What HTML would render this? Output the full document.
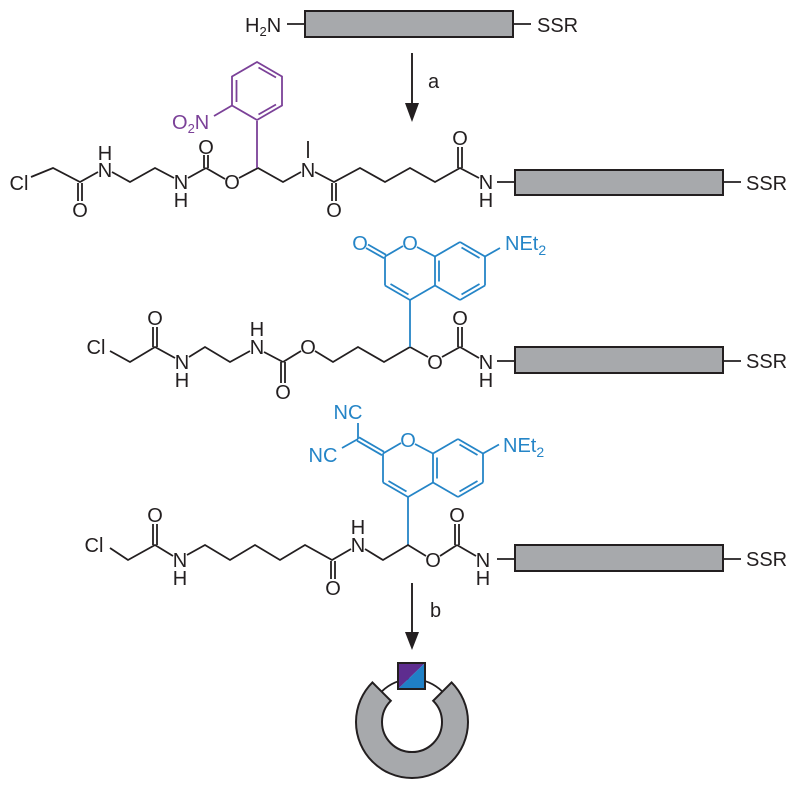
<!DOCTYPE html>
<html><head><meta charset="utf-8">
<style>
html,body{margin:0;padding:0;background:#fff;}
svg{display:block;}
text{font-family:"Liberation Sans",Arial,sans-serif;font-size:20px;fill:#231f20;}
text.p{fill:#7b4198;}
text.b{fill:#2585c7;}
</style></head>
<body>
<svg width="800" height="790" viewBox="0 0 800 790" xmlns="http://www.w3.org/2000/svg">
<!-- Row 1 -->
<text x="245" y="32">H<tspan font-size="13" dy="4">2</tspan><tspan dy="-4">N</tspan></text>
<g stroke="#231f20" stroke-width="1.8" fill="none">
<line x1="287" y1="24" x2="305" y2="24"/>
<line x1="513" y1="24" x2="531" y2="24"/>
</g>
<rect x="305" y="11" width="208" height="26" fill="#a7a9ac" stroke="#231f20" stroke-width="2"/>
<text x="537" y="32">SSR</text>

<!-- Arrow a -->
<line x1="412" y1="53" x2="412" y2="106" stroke="#231f20" stroke-width="1.9"/>
<polygon points="405,103 419,103 412,122" fill="#231f20"/>
<text x="428" y="88">a</text>

<!-- Row 2 -->
<g stroke="#231f20" stroke-width="1.8" fill="none">
<polyline points="31,177 53,168 80,182 98,172"/>
<line x1="78" y1="183" x2="78" y2="201"/><line x1="82" y1="183" x2="82" y2="201"/>
<polyline points="112,172 130,182 155,168 174,178"/>
<line x1="188" y1="178" x2="206" y2="168"/>
<line x1="204" y1="168" x2="204" y2="155"/><line x1="208" y1="168" x2="208" y2="155"/>
<line x1="206" y1="168" x2="225" y2="179"/>
<polyline points="239,178 258,168 283,182 301,172"/>
<line x1="308" y1="141" x2="308" y2="158"/>
<polyline points="315,172 334,182 360,168 385,182 410,168 435,182 460,168 479,178"/>
<line x1="332" y1="183" x2="332" y2="201"/><line x1="336" y1="183" x2="336" y2="201"/>
<line x1="458" y1="168" x2="458" y2="147"/><line x1="462" y1="168" x2="462" y2="147"/>
<line x1="497" y1="182" x2="515" y2="182"/>
<line x1="723" y1="182" x2="741" y2="182"/>
</g>
<g stroke="#7b4198" stroke-width="1.8" fill="none">
<line x1="257" y1="168" x2="257" y2="121"/>
<polygon points="257,62 282,76.5 282,105.5 257,120 232,105.5 232,76.5"/>
<line x1="236.5" y1="80" x2="236.5" y2="102"/>
<line x1="258.5" y1="67.5" x2="276" y2="77.5"/>
<line x1="276" y1="104.5" x2="258.5" y2="114.5"/>
<line x1="214" y1="116" x2="232" y2="105.5"/>
</g>
<text class="p" x="172" y="129">O<tspan font-size="13" dy="4">2</tspan><tspan dy="-4">N</tspan></text>
<rect x="515" y="170" width="208" height="25" fill="#a7a9ac" stroke="#231f20" stroke-width="2"/>
<text x="19" y="190" text-anchor="middle">Cl</text>
<text x="80" y="217" text-anchor="middle">O</text>
<text x="105" y="177" text-anchor="middle">N</text>
<text x="105" y="160" text-anchor="middle">H</text>
<text x="181" y="189" text-anchor="middle">N</text>
<text x="181" y="207" text-anchor="middle">H</text>
<text x="206" y="154" text-anchor="middle">O</text>
<text x="232" y="189" text-anchor="middle">O</text>
<text x="308" y="177" text-anchor="middle">N</text>
<text x="334" y="217" text-anchor="middle">O</text>
<text x="460" y="145" text-anchor="middle">O</text>
<text x="486" y="189" text-anchor="middle">N</text>
<text x="486" y="207" text-anchor="middle">H</text>
<text x="746" y="190">SSR</text>

<!-- Row 3 -->
<g stroke="#231f20" stroke-width="1.8" fill="none">
<polyline points="110,351 130,362 155,347 175,358"/>
<line x1="153" y1="347" x2="153" y2="327"/><line x1="157" y1="347" x2="157" y2="327"/>
<polyline points="189,357 205,347 230,362 250,351"/>
<line x1="264" y1="352" x2="283" y2="362"/>
<line x1="281" y1="362" x2="281" y2="383"/><line x1="285" y1="362" x2="285" y2="383"/>
<line x1="283" y1="362" x2="301" y2="351"/>
<polyline points="315,351 333,362 358,347 384,362 410,347 428,357"/>
<line x1="442" y1="357" x2="460" y2="347"/>
<line x1="458" y1="347" x2="458" y2="327"/><line x1="462" y1="347" x2="462" y2="327"/>
<line x1="460" y1="347" x2="479" y2="358"/>
<line x1="497" y1="361" x2="515" y2="361"/>
<line x1="723" y1="361" x2="741" y2="361"/>
</g>
<g stroke="#2585c7" stroke-width="1.8" fill="none">
<line x1="410" y1="347" x2="410" y2="300"/>
<line x1="410" y1="300" x2="385" y2="285.5"/>
<line x1="408.5" y1="294.5" x2="390.5" y2="284"/>
<line x1="385" y1="285.5" x2="385" y2="256.5"/>
<line x1="385" y1="256.5" x2="403" y2="246"/>
<line x1="417" y1="247" x2="435" y2="256.5"/>
<line x1="435" y1="256.5" x2="435" y2="285.5"/>
<line x1="439" y1="260.5" x2="439" y2="281.5"/>
<line x1="435" y1="285.5" x2="410" y2="300"/>
<line x1="435" y1="256.5" x2="460" y2="242"/>
<line x1="460" y1="242" x2="485" y2="256.5"/>
<line x1="461.5" y1="247.5" x2="479.5" y2="258"/>
<line x1="485" y1="256.5" x2="485" y2="285.5"/>
<line x1="485" y1="285.5" x2="460" y2="300"/>
<line x1="479.5" y1="284" x2="461.5" y2="294.5"/>
<line x1="460" y1="300" x2="435" y2="285.5"/>
<line x1="386" y1="254.8" x2="368" y2="244.5"/>
<line x1="384" y1="258.2" x2="366" y2="248"/>
<line x1="485" y1="256.5" x2="500" y2="248"/>
</g>
<text class="b" x="360" y="250" text-anchor="middle">O</text>
<text class="b" x="410" y="250" text-anchor="middle">O</text>
<text class="b" x="505" y="250">NEt<tspan font-size="14" dy="5">2</tspan></text>
<rect x="515" y="347" width="208" height="26" fill="#a7a9ac" stroke="#231f20" stroke-width="2"/>
<text x="96" y="354" text-anchor="middle">Cl</text>
<text x="155" y="325" text-anchor="middle">O</text>
<text x="182" y="369" text-anchor="middle">N</text>
<text x="182" y="387" text-anchor="middle">H</text>
<text x="257" y="354" text-anchor="middle">N</text>
<text x="257" y="336" text-anchor="middle">H</text>
<text x="283" y="399" text-anchor="middle">O</text>
<text x="308" y="354" text-anchor="middle">O</text>
<text x="435" y="369" text-anchor="middle">O</text>
<text x="460" y="325" text-anchor="middle">O</text>
<text x="486" y="369" text-anchor="middle">N</text>
<text x="486" y="387" text-anchor="middle">H</text>
<text x="746" y="368">SSR</text>

<!-- Row 4 coumarin (dicyano) -->
<g stroke="#2585c7" stroke-width="1.8" fill="none">
<line x1="408" y1="545" x2="408" y2="497"/>
<line x1="408" y1="497" x2="383" y2="482.5"/>
<line x1="406.5" y1="491.5" x2="388.5" y2="481"/>
<line x1="383" y1="482.5" x2="383" y2="453.5"/>
<line x1="383" y1="453.5" x2="401" y2="443"/>
<line x1="415" y1="444" x2="433" y2="453.5"/>
<line x1="433" y1="453.5" x2="433" y2="482.5"/>
<line x1="437" y1="457.5" x2="437" y2="478.5"/>
<line x1="433" y1="482.5" x2="408" y2="497"/>
<line x1="433" y1="453.5" x2="458" y2="439"/>
<line x1="458" y1="439" x2="483" y2="453.5"/>
<line x1="459.5" y1="444.5" x2="477.5" y2="455"/>
<line x1="483" y1="453.5" x2="483" y2="482.5"/>
<line x1="483" y1="482.5" x2="458" y2="497"/>
<line x1="477.5" y1="481" x2="459.5" y2="491.5"/>
<line x1="458" y1="497" x2="433" y2="482.5"/>
<line x1="384" y1="451.8" x2="359" y2="437.3"/>
<line x1="382" y1="455.2" x2="357" y2="440.7"/>
<line x1="358" y1="439" x2="358" y2="423"/>
<line x1="358" y1="439" x2="342" y2="448"/>
<line x1="483" y1="453.5" x2="499" y2="444.5"/>
</g>
<text class="b" x="348" y="419" text-anchor="middle">NC</text>
<text class="b" x="323" y="462" text-anchor="middle">NC</text>
<text class="b" x="408" y="447" text-anchor="middle">O</text>
<text class="b" x="503" y="452">NEt<tspan font-size="14" dy="5">2</tspan></text>

<!-- Row 5 -->
<g stroke="#231f20" stroke-width="1.8" fill="none">
<polyline points="110,548 128,560 155,545 173,556"/>
<line x1="153" y1="545" x2="153" y2="524"/><line x1="157" y1="545" x2="157" y2="524"/>
<polyline points="187,555 205,545 230,560 255,545 280,560 305,545 332,560 351,549"/>
<line x1="331" y1="561" x2="331" y2="579"/><line x1="335" y1="561" x2="335" y2="579"/>
<polyline points="365,549 383,560 408,545 426,556"/>
<line x1="440" y1="556" x2="457" y2="545"/>
<line x1="455" y1="545" x2="455" y2="524"/><line x1="459" y1="545" x2="459" y2="524"/>
<line x1="457" y1="545" x2="476" y2="556"/>
<line x1="497" y1="559" x2="515" y2="559"/>
<line x1="723" y1="559" x2="741" y2="559"/>
</g>
<rect x="515" y="545" width="208" height="26" fill="#a7a9ac" stroke="#231f20" stroke-width="2"/>
<text x="94" y="552" text-anchor="middle">Cl</text>
<text x="155" y="522" text-anchor="middle">O</text>
<text x="180" y="567" text-anchor="middle">N</text>
<text x="180" y="585" text-anchor="middle">H</text>
<text x="333" y="595" text-anchor="middle">O</text>
<text x="358" y="552" text-anchor="middle">N</text>
<text x="358" y="534" text-anchor="middle">H</text>
<text x="433" y="567" text-anchor="middle">O</text>
<text x="457" y="522" text-anchor="middle">O</text>
<text x="483" y="567" text-anchor="middle">N</text>
<text x="483" y="585" text-anchor="middle">H</text>
<text x="746" y="566">SSR</text>

<!-- Arrow b -->
<line x1="412" y1="583" x2="412" y2="636" stroke="#231f20" stroke-width="1.9"/>
<polygon points="405,632 419,632 412,650" fill="#231f20"/>
<text x="430" y="617">b</text>

<!-- Cyclic product -->
<path d="M372.4,682.4 A56,56 0 1 0 451.6,682.4 L433.2,700.8 A30,30 0 1 1 390.8,700.8 Z" fill="#a7a9ac" stroke="#231f20" stroke-width="2"/>
<path d="M381.6,691.6 A43,43 0 0 1 442.4,691.6" fill="none" stroke="#231f20" stroke-width="1.8"/>
<polygon points="398,663 425,663 398,689" fill="#5e2d8f"/>
<polygon points="425,663 425,689 398,689" fill="#1f80c6"/>
<rect x="398" y="663" width="27" height="26" fill="none" stroke="#231f20" stroke-width="2"/>
</svg>
</body></html>
